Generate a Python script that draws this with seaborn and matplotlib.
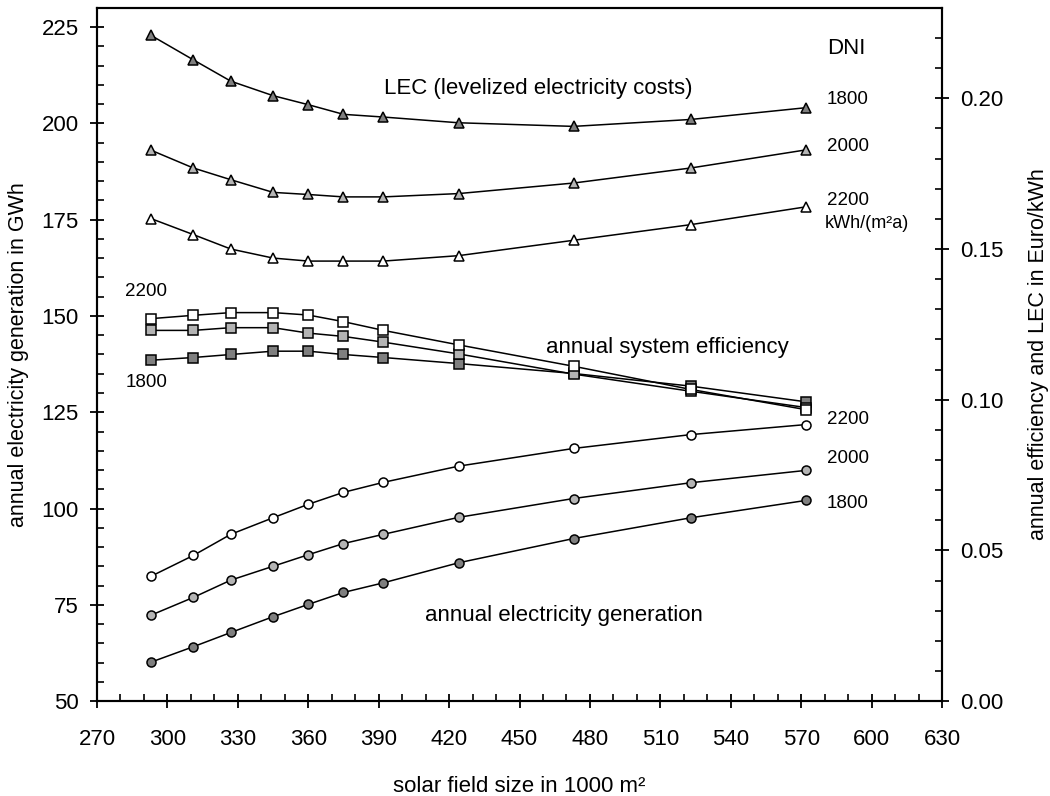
import numpy as np
import pandas as pd
import seaborn as sns
from matplotlib import pyplot as plt
from matplotlib.ticker import MultipleLocator, FormatStrFormatter

# solar field size in 1000 m2
field_size = [293, 311, 327, 345, 360, 375, 392, 424, 473, 523, 572]
dni_levels = ['1800', '2000', '2200']

# annual electricity generation in GWh (left axis)
gen_1800 = [60.1, 64.1, 67.8, 71.9, 75.1, 78.2, 80.7, 85.9, 92.2, 97.6, 102.1]
gen_2000 = [72.3, 76.9, 81.4, 85.0, 88.0, 90.9, 93.3, 97.7, 102.6, 106.7, 109.9]
gen_2200 = [82.4, 87.8, 93.3, 97.6, 101.1, 104.2, 106.8, 111.0, 115.6, 119.2, 121.8]

# annual system efficiency (right axis)
eff_1800 = [0.1131, 0.1140, 0.1150, 0.1161, 0.1161, 0.1150, 0.1140, 0.1120, 0.1087, 0.1045, 0.0993]
eff_2000 = [0.1230, 0.1230, 0.1239, 0.1239, 0.1221, 0.1210, 0.1191, 0.1152, 0.1085, 0.1028, 0.0974]
eff_2200 = [0.1269, 0.1280, 0.1289, 0.1289, 0.1281, 0.1259, 0.1230, 0.1182, 0.1111, 0.1034, 0.0967]

# levelized electricity costs in Euro/kWh (right axis)
lec_1800 = [0.2209, 0.2128, 0.2057, 0.2009, 0.1979, 0.1947, 0.1938, 0.1919, 0.1907, 0.1930, 0.1969]
lec_2000 = [0.1828, 0.1769, 0.1730, 0.1688, 0.1681, 0.1673, 0.1673, 0.1684, 0.1719, 0.1769, 0.1829]
lec_2200 = [0.1601, 0.1548, 0.1500, 0.1470, 0.1460, 0.1460, 0.1460, 0.1478, 0.1529, 0.1581, 0.1640]

fills = {'1800': '#7f7f7f', '2000': '#b4b4b4', '2200': 'white'}


def make_frame(series: list) -> pd.DataFrame:
    rows = []
    for dni, vals in zip(dni_levels, series):
        for x, v in zip(field_size, vals):
            rows.append((x, v, dni))
    return pd.DataFrame(rows, columns=['size', 'value', 'dni'])


gen_df = make_frame([gen_1800, gen_2000, gen_2200])
eff_df = make_frame([eff_1800, eff_2000, eff_2200])
lec_df = make_frame([lec_1800, lec_2000, lec_2200])

sns.set_style('ticks', {'axes.edgecolor': 'black', 'text.color': 'black',
                        'xtick.color': 'black', 'ytick.color': 'black',
                        'axes.labelcolor': 'black'})
plt.rcParams['font.family'] = ['Liberation Sans', 'DejaVu Sans']

fig = plt.figure(figsize=(10.5, 7.96), dpi=100)
ax = fig.add_axes([0.0924, 0.1193, 0.8048, 0.8707])
ax2 = ax.twinx()


def draw(axis, df, marker, size):
    for dni in dni_levels:
        part = df[df['dni'] == dni]
        sns.lineplot(data=part, x='size', y='value', ax=axis, color='black',
                     linewidth=1.1, marker=marker, markersize=size,
                     markerfacecolor=fills[dni], markeredgecolor='black',
                     markeredgewidth=1.1, legend=False)


draw(ax, gen_df, 'o', 6.5)
draw(ax2, eff_df, 's', 7)
draw(ax2, lec_df, '^', 7)

ax.set_xlim(270, 630)
ax.set_ylim(50, 230)
ax2.set_ylim(0, 0.23)
ax.xaxis.set_major_locator(MultipleLocator(30))
ax.xaxis.set_minor_locator(MultipleLocator(10))
ax.yaxis.set_major_locator(MultipleLocator(25))
ax.yaxis.set_minor_locator(MultipleLocator(5))
ax2.yaxis.set_major_locator(MultipleLocator(0.05))
ax2.yaxis.set_minor_locator(MultipleLocator(0.01))
ax2.yaxis.set_major_formatter(FormatStrFormatter('%.2f'))

for a in (ax, ax2):
    a.tick_params(which='major', direction='inout', length=10, width=1.3, labelsize=16)
    a.tick_params(which='minor', direction='in', length=5, width=1.2)
    for s in a.spines.values():
        s.set_linewidth(1.5)
        s.set_visible(True)
ax.tick_params(axis='x', which='major', pad=15)
ax.tick_params(axis='y', which='major', pad=8)
ax2.tick_params(axis='y', which='major', pad=8)

ax.set_xlabel('solar field size in 1000 m²', fontsize=16)
ax.set_ylabel('annual electricity generation in GWh', fontsize=15.5)
ax2.set_ylabel('annual efficiency and LEC in Euro/kWh', fontsize=15.5)
ax.xaxis.set_label_coords(0.5, -0.108)
ax.yaxis.set_label_coords(-0.080, 0.5)
ax2.yaxis.set_label_coords(1.102, 0.5)

fs = 13.5
ax.text(581, 219.6, 'DNI', fontsize=16, va='center')
ax.text(581, 206.1, '1800', fontsize=fs, va='center')
ax.text(581, 193.9, '2000', fontsize=fs, va='center')
ax.text(581, 180.1, '2200', fontsize=fs, va='center')
ax.text(580, 173.9, 'kWh/(m²a)', fontsize=13, va='center')
ax.text(458, 209.2, 'LEC (levelized electricity costs)', fontsize=16, ha='center', va='center')
ax.text(291, 156.3, '2200', fontsize=fs, ha='center', va='center')
ax.text(291, 132.6, '1800', fontsize=fs, ha='center', va='center')
ax.text(513, 141.7, 'annual system efficiency', fontsize=16, ha='center', va='center')
ax.text(581, 123.2, '2200', fontsize=fs, va='center')
ax.text(581, 112.9, '2000', fontsize=fs, va='center')
ax.text(581, 101.4, '1800', fontsize=fs, va='center')
ax.text(469, 72.1, 'annual electricity generation', fontsize=16, ha='center', va='center')

fig.savefig('out.png', dpi=100)
